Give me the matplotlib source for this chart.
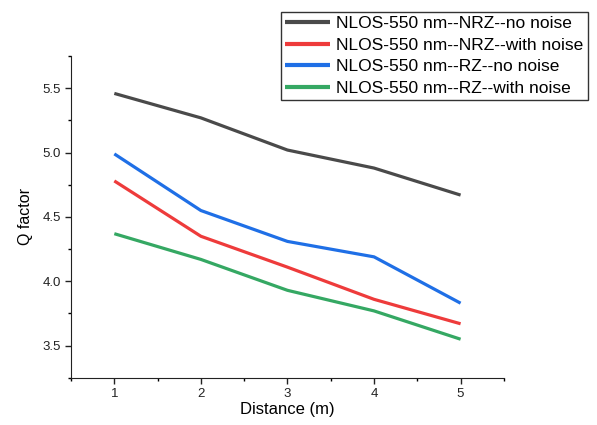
import numpy as np
import matplotlib.pyplot as plt

plt.rcParams['font.family'] = ['Liberation Sans', 'DejaVu Sans']

# -----------------------------
# Data
# -----------------------------
distance = [1, 2, 3, 4, 5]
nrz_no_noise = [5.46, 5.27, 5.02, 4.88, 4.67]
nrz_with_noise = [4.78, 4.35, 4.11, 3.86, 3.67]
rz_no_noise = [4.99, 4.55, 4.31, 4.19, 3.83]
rz_with_noise = [4.37, 4.17, 3.93, 3.77, 3.55]

labels = ['NLOS-550 nm--NRZ--no noise', 'NLOS-550 nm--NRZ--with noise',
          'NLOS-550 nm--RZ--no noise', 'NLOS-550 nm--RZ--with noise']
colors = ['#4a4a4a', '#ee3b3b', '#1f6fe6', '#35a863']

# -----------------------------
# Plot
# -----------------------------
fig = plt.figure(figsize=(5.97, 4.25), dpi=100)
ax = fig.add_axes([0.119, 0.111, 0.725, 0.757])

for ys, lab, c in zip([nrz_no_noise, nrz_with_noise, rz_no_noise, rz_with_noise], labels, colors):
    ax.plot(distance, ys, color=c, lw=2.3, label=lab, solid_capstyle='butt')

ax.set_xlim(0.5, 5.5)
ax.set_ylim(3.25, 5.75)
ax.set_xticks([1, 2, 3, 4, 5])
ax.set_xticks(np.arange(0.5, 5.51, 0.5), minor=True)
ax.set_yticks([3.5, 4.0, 4.5, 5.0, 5.5])
ax.set_yticks(np.arange(3.25, 5.76, 0.25), minor=True)
ax.tick_params(which='major', direction='out', length=4, width=1, labelsize=9.5, colors='#222222')
ax.tick_params(which='minor', direction='out', length=2.5, width=1)

ax.spines['top'].set_visible(False)
ax.spines['right'].set_visible(False)
ax.spines['left'].set_color('#222222')
ax.spines['bottom'].set_color('#222222')

ax.set_xlabel('Distance (m)', fontsize=12, labelpad=1)
ax.set_ylabel('Q factor', fontsize=11.5, labelpad=7)

leg = fig.legend(loc='upper right', bbox_to_anchor=(0.985, 0.972), fontsize=12.5,
                 frameon=True, fancybox=False, edgecolor='black',
                 handlelength=2.6, handletextpad=0.35, borderpad=0.25,
                 labelspacing=0.36, borderaxespad=0)
leg.get_frame().set_linewidth(1.0)
for line in leg.get_lines():
    line.set_linewidth(3)

plt.savefig('out.png', dpi=100)
